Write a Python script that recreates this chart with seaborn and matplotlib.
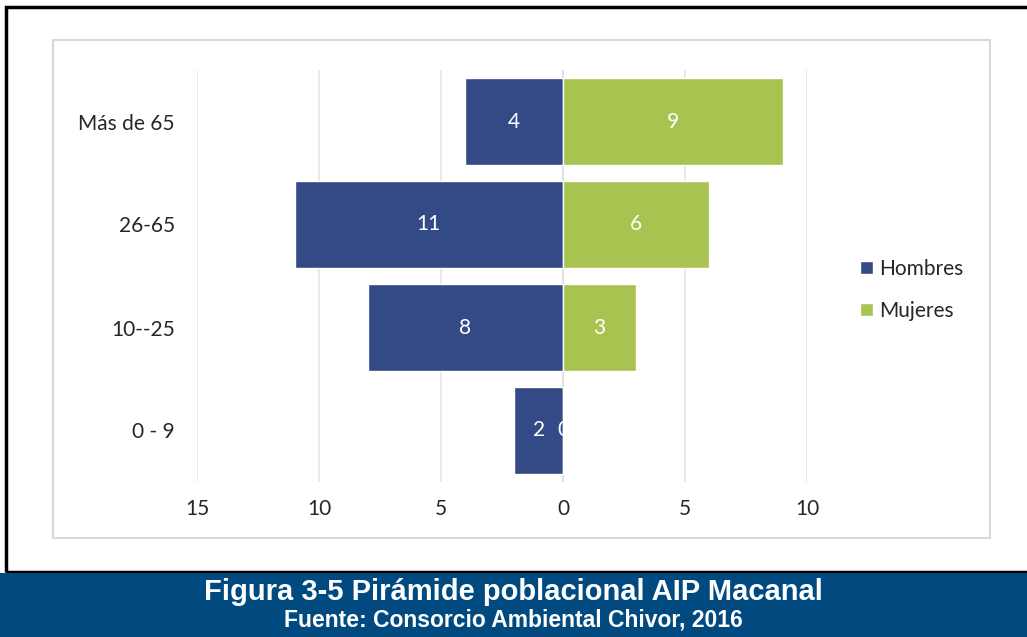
import pandas as pd
import matplotlib.pyplot as plt
import seaborn as sns
from matplotlib.patches import Rectangle

# Data
grupos = ['Más de 65', '26-65', '10--25', '0 - 9']
hombres = [4, 11, 8, 2]
mujeres = [9, 6, 3, 0]
ticks = [-15, -10, -5, 0, 5, 10]
tick_labels = ['15', '10', '5', '0', '5', '10']

col_h = '#344A87'
col_m = '#A9C351'

sns.set_theme(style='white')
plt.rcParams['font.family'] = ['Lato', 'DejaVu Sans']

df = pd.DataFrame({'grupo': grupos, 'Hombres': [-v for v in hombres], 'Mujeres': mujeres})

fig = plt.figure(figsize=(10.27, 6.37), dpi=100)
W, H = 1027, 637

# outer frame, chart frame, banner
fig.patches.append(Rectangle((6 / W, 1 - 572 / H), 1, 565 / H, transform=fig.transFigure,
                             fill=False, edgecolor='black', lw=2.5))
fig.patches.append(Rectangle((53 / W, 1 - 538 / H), 937 / W, 498 / H, transform=fig.transFigure,
                             fill=False, edgecolor='#D9D9D9', lw=1.5))
fig.patches.append(Rectangle((0, 0), 1, 64 / H, transform=fig.transFigure,
                             facecolor='#004A80', edgecolor='none'))

ax = fig.add_axes([197 / W, 1 - 482 / H, 610 / W, 412 / H])
sns.barplot(data=df, x='Hombres', y='grupo', color=col_h, saturation=1, width=0.84,
            orient='h', ax=ax, label='Hombres')
sns.barplot(data=df, x='Mujeres', y='grupo', color=col_m, saturation=1, width=0.84,
            orient='h', ax=ax, label='Mujeres')

ax.set_xlim(-15, 10)
ax.set_xticks(ticks)
ax.set_xticklabels(tick_labels)
for t in ticks:
    ax.axvline(t, color='#D9D9D9' if t == 0 else '#E6E6E6', lw=1.2, zorder=0.5)
ax.set_xlabel('')
ax.set_ylabel('')
for s in ax.spines.values():
    s.set_visible(False)
ax.tick_params(axis='x', length=0, pad=12, labelsize=15)
ax.tick_params(axis='y', length=0, pad=16, labelsize=15)

ax.bar_label(ax.containers[0], labels=[str(v) for v in hombres], label_type='center',
             color='white', fontsize=15)
ax.bar_label(ax.containers[1], labels=[str(v) for v in mujeres], label_type='center',
             color='white', fontsize=15)

# legend placed in figure pixels
ax.legend(loc='center left', bbox_to_anchor=(860 / W, 1 - 290 / H), bbox_transform=fig.transFigure,
          frameon=False, fontsize=15, handlelength=0.6, handleheight=0.6, handletextpad=0.3,
          labelspacing=1.05, borderaxespad=0, borderpad=0)

fig.text(0.5, 1 - 592 / H, 'Figura 3-5 Pirámide poblacional AIP Macanal', ha='center', va='center',
         color='white', fontsize=21, fontweight='bold', family='Liberation Sans')
fig.text(0.5, 1 - 620 / H, 'Fuente: Consorcio Ambiental Chivor, 2016', ha='center', va='center',
         color='white', fontsize=16.5, fontweight='bold', family='Liberation Sans')

fig.savefig('out.png', dpi=100)
